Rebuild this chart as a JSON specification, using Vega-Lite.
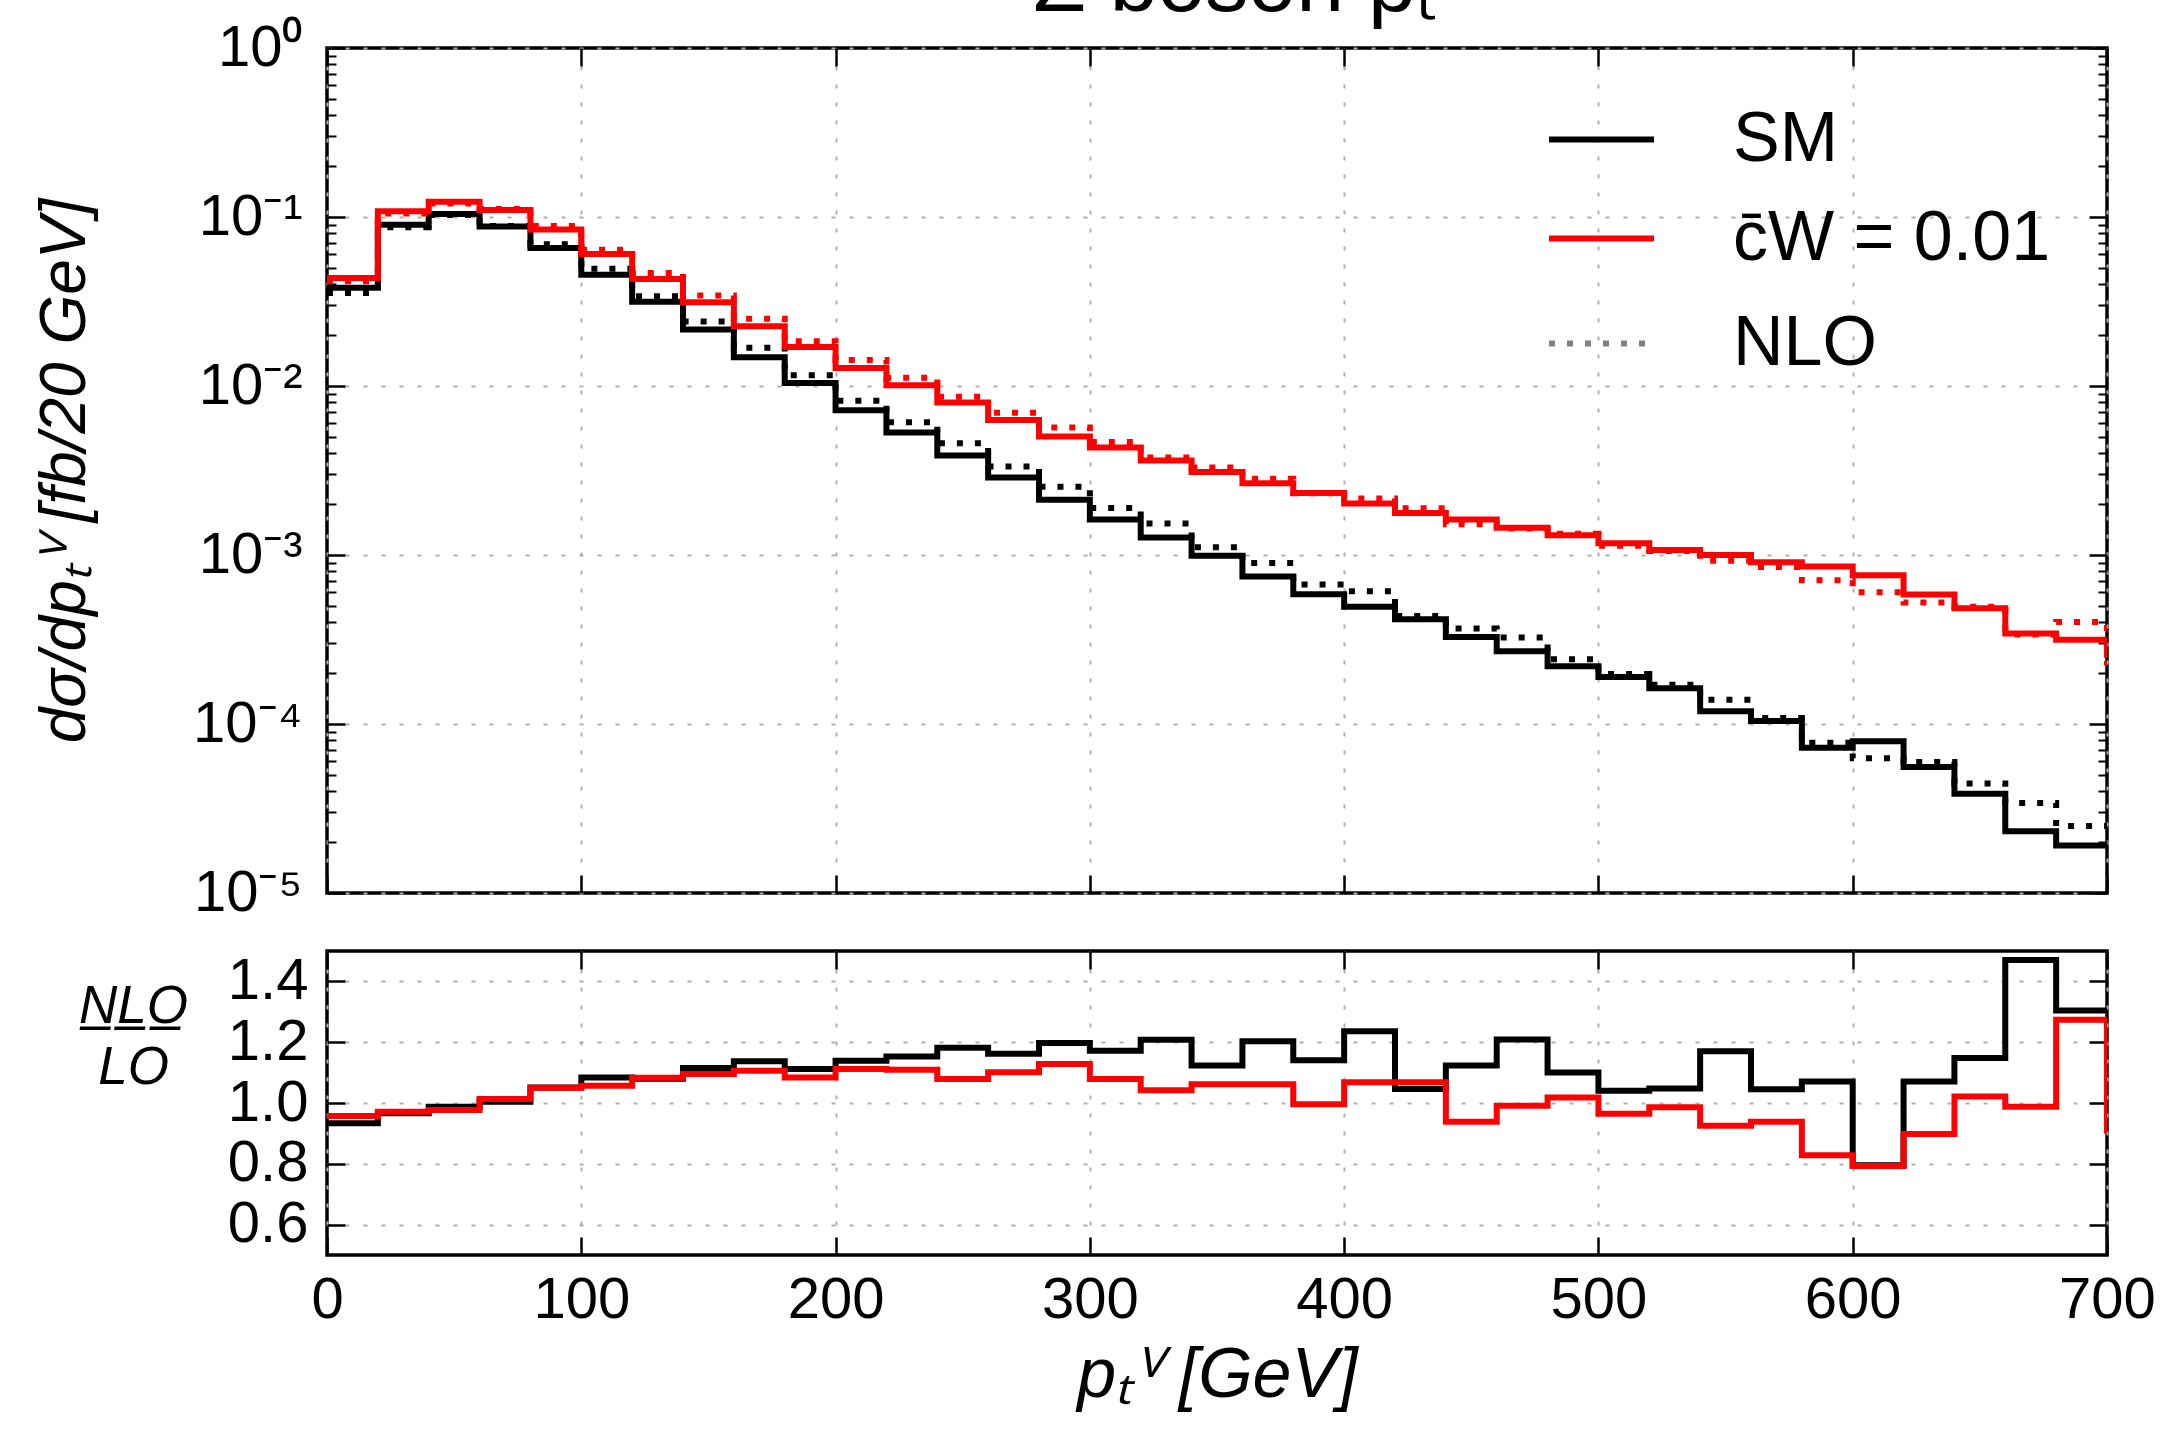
{
  "$schema": "https://vega.github.io/schema/vega-lite/v6.json",
  "background": "white",
  "padding": {"left": 31, "top": -58, "right": 0, "bottom": 0},
  "title": {"text": "Z boson pₜ", "fontSize": 86, "fontWeight": "normal", "anchor": "middle", "offset": -12, "dx": 140},
  "spacing": 24,
  "datasets": {
    "bins": [
      {"x": 0, "model": "SM", "LO": 0.0381, "NLO": 0.03555, "ratio": 0.933},
      {"x": 20, "model": "SM", "LO": 0.090, "NLO": 0.08694, "ratio": 0.966},
      {"x": 40, "model": "SM", "LO": 0.104, "NLO": 0.10275, "ratio": 0.988},
      {"x": 60, "model": "SM", "LO": 0.088, "NLO": 0.08835, "ratio": 1.004},
      {"x": 80, "model": "SM", "LO": 0.0656, "NLO": 0.06895, "ratio": 1.051},
      {"x": 100, "model": "SM", "LO": 0.0456, "NLO": 0.04943, "ratio": 1.084},
      {"x": 120, "model": "SM", "LO": 0.0315, "NLO": 0.03402, "ratio": 1.080},
      {"x": 140, "model": "SM", "LO": 0.0216, "NLO": 0.02408, "ratio": 1.115},
      {"x": 160, "model": "SM", "LO": 0.0148, "NLO": 0.01683, "ratio": 1.137},
      {"x": 180, "model": "SM", "LO": 0.0104, "NLO": 0.01156, "ratio": 1.112},
      {"x": 200, "model": "SM", "LO": 0.00718, "NLO": 0.008178, "ratio": 1.139},
      {"x": 220, "model": "SM", "LO": 0.0053, "NLO": 0.006111, "ratio": 1.153},
      {"x": 240, "model": "SM", "LO": 0.00388, "NLO": 0.004586, "ratio": 1.182},
      {"x": 260, "model": "SM", "LO": 0.00287, "NLO": 0.003335, "ratio": 1.162},
      {"x": 280, "model": "SM", "LO": 0.00212, "NLO": 0.002538, "ratio": 1.197},
      {"x": 300, "model": "SM", "LO": 0.00162, "NLO": 0.001899, "ratio": 1.172},
      {"x": 320, "model": "SM", "LO": 0.00127, "NLO": 0.001534, "ratio": 1.208},
      {"x": 340, "model": "SM", "LO": 0.00099, "NLO": 0.001112, "ratio": 1.123},
      {"x": 360, "model": "SM", "LO": 0.000746, "NLO": 0.0008974, "ratio": 1.203},
      {"x": 380, "model": "SM", "LO": 0.000586, "NLO": 0.0006686, "ratio": 1.141},
      {"x": 400, "model": "SM", "LO": 0.000494, "NLO": 0.0006106, "ratio": 1.236},
      {"x": 420, "model": "SM", "LO": 0.000417, "NLO": 0.0004362, "ratio": 1.046},
      {"x": 440, "model": "SM", "LO": 0.000327, "NLO": 0.0003672, "ratio": 1.123},
      {"x": 460, "model": "SM", "LO": 0.000269, "NLO": 0.0003252, "ratio": 1.209},
      {"x": 480, "model": "SM", "LO": 0.00022, "NLO": 0.000242, "ratio": 1.100},
      {"x": 500, "model": "SM", "LO": 0.00019, "NLO": 0.0001976, "ratio": 1.040},
      {"x": 520, "model": "SM", "LO": 0.000163, "NLO": 0.0001708, "ratio": 1.048},
      {"x": 540, "model": "SM", "LO": 0.000119, "NLO": 0.0001392, "ratio": 1.170},
      {"x": 560, "model": "SM", "LO": 0.000104, "NLO": 0.0001087, "ratio": 1.045},
      {"x": 580, "model": "SM", "LO": 0.0000723, "NLO": 0.00007743, "ratio": 1.071},
      {"x": 600, "model": "SM", "LO": 0.000079, "NLO": 0.0000628, "ratio": 0.795},
      {"x": 620, "model": "SM", "LO": 0.0000557, "NLO": 0.00005965, "ratio": 1.071},
      {"x": 640, "model": "SM", "LO": 0.0000387, "NLO": 0.00004443, "ratio": 1.148},
      {"x": 660, "model": "SM", "LO": 0.0000232, "NLO": 0.0000341, "ratio": 1.470},
      {"x": 680, "model": "SM", "LO": 0.0000191, "NLO": 0.0000249, "ratio": 1.304},
      {"x": 700, "model": "SM", "LO": 0.0000191, "NLO": 0.0000249, "ratio": 1.304},
      {"x": 0, "model": "c̄W = 0.01", "LO": 0.0436, "NLO": 0.04173, "ratio": 0.957},
      {"x": 20, "model": "c̄W = 0.01", "LO": 0.108, "NLO": 0.10487, "ratio": 0.971},
      {"x": 40, "model": "c̄W = 0.01", "LO": 0.123, "NLO": 0.12017, "ratio": 0.977},
      {"x": 60, "model": "c̄W = 0.01", "LO": 0.110, "NLO": 0.11143, "ratio": 1.013},
      {"x": 80, "model": "c̄W = 0.01", "LO": 0.0842, "NLO": 0.08841, "ratio": 1.050},
      {"x": 100, "model": "c̄W = 0.01", "LO": 0.0605, "NLO": 0.06395, "ratio": 1.057},
      {"x": 120, "model": "c̄W = 0.01", "LO": 0.043, "NLO": 0.04657, "ratio": 1.083},
      {"x": 140, "model": "c̄W = 0.01", "LO": 0.0313, "NLO": 0.03427, "ratio": 1.095},
      {"x": 160, "model": "c̄W = 0.01", "LO": 0.0226, "NLO": 0.025, "ratio": 1.106},
      {"x": 180, "model": "c̄W = 0.01", "LO": 0.017, "NLO": 0.01843, "ratio": 1.084},
      {"x": 200, "model": "c̄W = 0.01", "LO": 0.0128, "NLO": 0.01423, "ratio": 1.112},
      {"x": 220, "model": "c̄W = 0.01", "LO": 0.0101, "NLO": 0.0112, "ratio": 1.109},
      {"x": 240, "model": "c̄W = 0.01", "LO": 0.008, "NLO": 0.008632, "ratio": 1.079},
      {"x": 260, "model": "c̄W = 0.01", "LO": 0.0063, "NLO": 0.006936, "ratio": 1.101},
      {"x": 280, "model": "c̄W = 0.01", "LO": 0.00503, "NLO": 0.005674, "ratio": 1.128},
      {"x": 300, "model": "c̄W = 0.01", "LO": 0.00432, "NLO": 0.004661, "ratio": 1.079},
      {"x": 320, "model": "c̄W = 0.01", "LO": 0.00362, "NLO": 0.003772, "ratio": 1.042},
      {"x": 340, "model": "c̄W = 0.01", "LO": 0.0031, "NLO": 0.003292, "ratio": 1.062},
      {"x": 360, "model": "c̄W = 0.01", "LO": 0.00266, "NLO": 0.002825, "ratio": 1.062},
      {"x": 380, "model": "c̄W = 0.01", "LO": 0.00233, "NLO": 0.002321, "ratio": 0.996},
      {"x": 400, "model": "c̄W = 0.01", "LO": 0.00202, "NLO": 0.002157, "ratio": 1.068},
      {"x": 420, "model": "c̄W = 0.01", "LO": 0.00177, "NLO": 0.00189, "ratio": 1.068},
      {"x": 440, "model": "c̄W = 0.01", "LO": 0.00162, "NLO": 0.00152, "ratio": 0.938},
      {"x": 460, "model": "c̄W = 0.01", "LO": 0.00145, "NLO": 0.001437, "ratio": 0.991},
      {"x": 480, "model": "c̄W = 0.01", "LO": 0.00131, "NLO": 0.001334, "ratio": 1.018},
      {"x": 500, "model": "c̄W = 0.01", "LO": 0.001175, "NLO": 0.001134, "ratio": 0.965},
      {"x": 520, "model": "c̄W = 0.01", "LO": 0.00107, "NLO": 0.001055, "ratio": 0.986},
      {"x": 540, "model": "c̄W = 0.01", "LO": 0.001, "NLO": 0.000925, "ratio": 0.925},
      {"x": 560, "model": "c̄W = 0.01", "LO": 0.000906, "NLO": 0.0008498, "ratio": 0.938},
      {"x": 580, "model": "c̄W = 0.01", "LO": 0.000855, "NLO": 0.000708, "ratio": 0.828},
      {"x": 600, "model": "c̄W = 0.01", "LO": 0.000759, "NLO": 0.0006019, "ratio": 0.793},
      {"x": 620, "model": "c̄W = 0.01", "LO": 0.000583, "NLO": 0.0005235, "ratio": 0.898},
      {"x": 640, "model": "c̄W = 0.01", "LO": 0.000484, "NLO": 0.0004942, "ratio": 1.021},
      {"x": 660, "model": "c̄W = 0.01", "LO": 0.000343, "NLO": 0.0003389, "ratio": 0.988},
      {"x": 680, "model": "c̄W = 0.01", "LO": 0.000315, "NLO": 0.0004013, "ratio": 1.274},
      {"x": 700, "model": "c̄W = 0.01", "LO": 0.000247, "NLO": 0.000222, "ratio": 0.9}
    ]
  },
  "vconcat": [
    {
      "width": 1780,
      "height": 845,
      "data": {"name": "bins"},
      "transform": [{"fold": ["LO", "NLO"], "as": ["order", "y"]}],
      "layer": [
        {
          "mark": {"type": "line", "interpolate": "step-after", "strokeWidth": 6, "strokeCap": "butt", "strokeJoin": "miter", "clip": true},
          "encoding": {
            "x": {"field": "x", "type": "quantitative", "scale": {"domain": [0, 700], "nice": false, "zero": false},
              "axis": {"orient": "bottom", "values": [0, 100, 200, 300, 400, 500, 600, 700], "labels": false, "tickSize": -18, "tickWidth": 2.5, "grid": true, "title": null}},
            "y": {"field": "y", "type": "quantitative", "scale": {"type": "log", "domain": [0.00001, 1], "nice": false},
              "axis": {"orient": "left", "values": [0.00001, 0.0001, 0.001, 0.01, 0.1, 1],
                "labelExpr": "datum.value >= 0.99 ? '10⁰' : datum.value >= 0.099 ? '10⁻¹' : datum.value >= 0.0099 ? '10⁻²' : datum.value >= 0.00099 ? '10⁻³' : datum.value >= 0.000099 ? '10⁻⁴' : '10⁻⁵'",
                "labelFontSize": 58, "labelPadding": 43, "labelOverlap": false, "tickSize": -18, "tickWidth": 2.5, "grid": true,
                "title": "dσ/dpₜⱽ [fb/20 GeV]", "titleFontSize": 64, "titleFontStyle": "italic", "titleFontWeight": "normal", "titlePadding": 95}},
            "color": {"field": "model", "type": "nominal", "scale": {"domain": ["SM", "c̄W = 0.01"], "range": ["#000000", "#ff0000"]},
              "legend": {"orient": "none", "legendX": 1219, "legendY": 36, "title": null, "symbolType": "stroke", "symbolSize": 11025, "symbolStrokeWidth": 6, "labelFontSize": 70, "labelOffset": 76, "labelLimit": 900, "rowPadding": 8, "padding": 0}},
            "strokeDash": {"field": "order", "type": "nominal", "scale": {"domain": ["LO", "NLO"], "range": [[1, 0], [6, 12]]},
              "legend": {"orient": "none", "legendX": 1219, "legendY": 240, "title": null, "values": ["NLO"], "symbolType": "stroke", "symbolStrokeColor": "#808080", "symbolSize": 11025, "symbolStrokeWidth": 6, "labelFontSize": 70, "labelOffset": 76, "labelLimit": 900, "padding": 0}}
          }
        },
        {
          "mark": {"type": "line", "opacity": 0},
          "encoding": {
            "x": {"field": "x", "type": "quantitative", "scale": {"domain": [0, 700], "nice": false, "zero": false},
              "axis": {"orient": "top", "values": [0, 100, 200, 300, 400, 500, 600, 700], "labels": false, "tickSize": -18, "tickWidth": 2.5, "grid": false, "title": null}},
            "y": {"field": "y", "type": "quantitative", "scale": {"type": "log", "domain": [0.00001, 1], "nice": false},
              "axis": {"orient": "right", "values": [0.00001, 0.0001, 0.001, 0.01, 0.1, 1], "labels": false, "tickSize": -18, "tickWidth": 2.5, "grid": false, "title": null}}
          }
        },
        {
          "mark": {"type": "line", "opacity": 0},
          "encoding": {
            "x": {"field": "x", "type": "quantitative", "scale": {"domain": [0, 700], "nice": false, "zero": false}, "axis": null},
            "y": {"field": "y", "type": "quantitative", "scale": {"type": "log", "domain": [0.00001, 1], "nice": false},
              "axis": {"orient": "left", "values": [0.00002, 0.00003, 0.00004, 0.00005, 0.00006, 0.00007, 0.00008, 0.00009, 0.0002, 0.0003, 0.0004, 0.0005, 0.0006, 0.0007, 0.0008, 0.0009, 0.002, 0.003, 0.004, 0.005, 0.006, 0.007, 0.008, 0.009, 0.02, 0.03, 0.04, 0.05, 0.06, 0.07, 0.08, 0.09, 0.2, 0.3, 0.4, 0.5, 0.6, 0.7, 0.8, 0.9], "labels": false, "tickSize": -9, "tickWidth": 2, "grid": false, "title": null}}
          }
        },
        {
          "mark": {"type": "line", "opacity": 0},
          "encoding": {
            "x": {"field": "x", "type": "quantitative", "scale": {"domain": [0, 700], "nice": false, "zero": false}, "axis": null},
            "y": {"field": "y", "type": "quantitative", "scale": {"type": "log", "domain": [0.00001, 1], "nice": false},
              "axis": {"orient": "right", "values": [0.00002, 0.00003, 0.00004, 0.00005, 0.00006, 0.00007, 0.00008, 0.00009, 0.0002, 0.0003, 0.0004, 0.0005, 0.0006, 0.0007, 0.0008, 0.0009, 0.002, 0.003, 0.004, 0.005, 0.006, 0.007, 0.008, 0.009, 0.02, 0.03, 0.04, 0.05, 0.06, 0.07, 0.08, 0.09, 0.2, 0.3, 0.4, 0.5, 0.6, 0.7, 0.8, 0.9], "labels": false, "tickSize": -9, "tickWidth": 2, "grid": false, "title": null}}
          }
        }
      ],
      "resolve": {"axis": {"x": "independent", "y": "independent"}}
    },
    {
      "width": 1780,
      "height": 304,
      "data": {"name": "bins"},
      "layer": [
        {
          "mark": {"type": "line", "interpolate": "step-after", "strokeWidth": 6, "strokeCap": "butt", "strokeJoin": "miter", "clip": true},
          "encoding": {
            "x": {"field": "x", "type": "quantitative", "scale": {"domain": [0, 700], "nice": false, "zero": false},
              "axis": {"orient": "bottom", "values": [0, 100, 200, 300, 400, 500, 600, 700], "labelFontSize": 58, "labelPadding": 34, "labelFlush": false, "labelOverlap": false, "tickSize": -18, "tickWidth": 2.5, "grid": true,
                "title": "pₜⱽ [GeV]", "titleFontSize": 70, "titleFontStyle": "italic", "titleFontWeight": "normal", "titlePadding": 12}},
            "y": {"field": "ratio", "type": "quantitative", "scale": {"domain": [0.5, 1.5], "nice": false, "zero": false},
              "axis": {"orient": "left", "values": [0.6, 0.8, 1.0, 1.2, 1.4], "format": ".1f", "labelFontSize": 58, "labelPadding": 37, "labelOverlap": false, "tickSize": -18, "tickWidth": 2.5, "grid": true,
                "title": ["N̲L̲O̲", "LO"], "titleFontSize": 53, "titleFontStyle": "italic", "titleFontWeight": "normal", "titleAngle": 0, "titleAlign": "center", "titleBaseline": "middle", "titleX": -194, "titleY": 55, "titleLineHeight": 61}},
            "color": {"field": "model", "type": "nominal", "scale": {"domain": ["SM", "c̄W = 0.01"], "range": ["#000000", "#ff0000"]}, "legend": null}
          }
        },
        {
          "mark": {"type": "line", "opacity": 0},
          "encoding": {
            "x": {"field": "x", "type": "quantitative", "scale": {"domain": [0, 700], "nice": false, "zero": false},
              "axis": {"orient": "top", "values": [0, 100, 200, 300, 400, 500, 600, 700], "labels": false, "tickSize": -18, "tickWidth": 2.5, "grid": false, "title": null}},
            "y": {"field": "ratio", "type": "quantitative", "scale": {"domain": [0.5, 1.5], "nice": false, "zero": false},
              "axis": {"orient": "right", "values": [0.6, 0.8, 1.0, 1.2, 1.4], "labels": false, "tickSize": -18, "tickWidth": 2.5, "grid": false, "title": null}}
          }
        }
      ],
      "resolve": {"axis": {"x": "independent", "y": "independent"}}
    }
  ],
  "config": {
    "font": "Liberation Sans",
    "axis": {"labelFont": "Liberation Sans", "titleFont": "Liberation Sans", "labelColor": "#000000", "titleColor": "#000000", "tickColor": "#000000", "domain": false, "gridColor": "#b0b0b0", "gridDash": [4, 14], "gridWidth": 2, "gridOpacity": 1},
    "legend": {"labelFont": "Liberation Sans", "labelColor": "#000000"},
    "title": {"font": "Liberation Sans", "color": "#000000"},
    "view": {"stroke": "#000000", "strokeWidth": 3.5}
  }
}
